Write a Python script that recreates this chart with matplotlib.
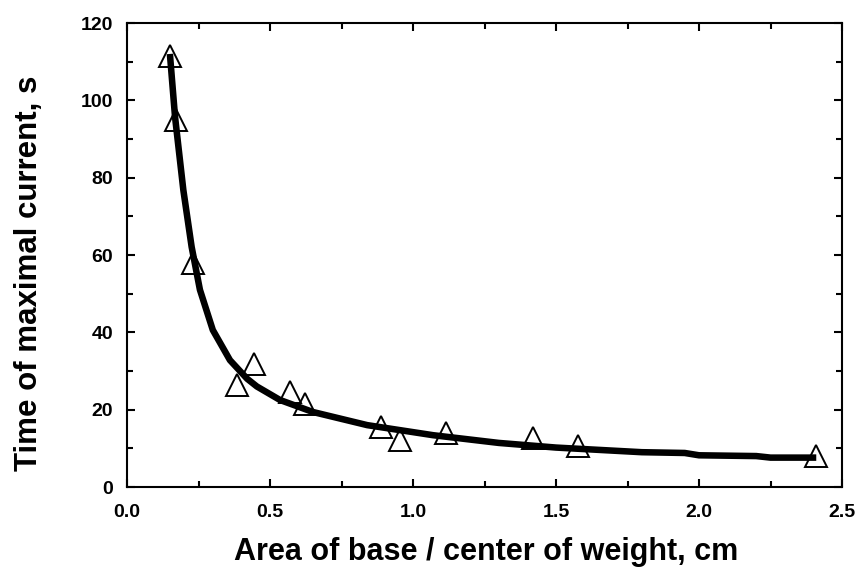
import matplotlib
matplotlib.use("Agg")
import matplotlib.pyplot as plt
from matplotlib.ticker import MultipleLocator

# measured data points
pts_x = [0.15, 0.171, 0.232, 0.385, 0.445, 0.57, 0.622, 0.888, 0.955, 1.115, 1.42, 1.577, 2.41]
pts_y = [111.5, 95.0, 58.0, 26.4, 31.8, 24.6, 21.5, 15.5, 12.2, 14.0, 12.7, 10.6, 8.0]

# fitted curve
fit_x = [0.15, 0.168, 0.197, 0.226, 0.255, 0.30, 0.36, 0.42, 0.454, 0.535, 0.65, 0.84, 1.07, 1.30, 1.50, 1.80, 1.95, 2.0, 2.2, 2.25, 2.41]
fit_y = [112.0, 95.7, 76.8, 62.1, 51.0, 40.6, 32.8, 28.0, 26.0, 22.5, 19.4, 16.0, 13.4, 11.4, 10.2, 9.0, 8.8, 8.2, 8.0, 7.6, 7.6]

xticks = [0.0, 0.5, 1.0, 1.5, 2.0, 2.5]
xticklabels = ["0.0", "0.5", "1.0", "1.5", "2.0", "2.5"]
yticks = [0, 20, 40, 60, 80, 100, 120]
yticklabels = ["0", "20", "40", "60", "80", "100", "120"]

plt.rcParams['font.family'] = ['Liberation Sans', 'DejaVu Sans']
plt.rcParams['font.weight'] = 'bold'

W, H = 857, 571
fig = plt.figure(figsize=(W / 100, H / 100), dpi=100)
ax = fig.add_axes([127 / W, 1 - 487 / H, (842 - 127) / W, (487 - 23) / H])

ax.plot(fit_x, fit_y, color='black', lw=4.7, solid_capstyle='butt', zorder=2)
ax.plot(pts_x, pts_y, linestyle='none', marker='^', markersize=16.5,
        markerfacecolor='none', markeredgecolor='black', markeredgewidth=1.4, zorder=3)

ax.set_xlim(0, 2.5)
ax.set_ylim(0, 120)
ax.set_xticks(xticks)
ax.set_xticklabels(xticklabels)
ax.set_yticks(yticks)
ax.set_yticklabels(yticklabels)
ax.xaxis.set_minor_locator(MultipleLocator(0.25))
ax.yaxis.set_minor_locator(MultipleLocator(10))

ax.tick_params(which='both', direction='in', top=True, right=True, width=1.5)
ax.tick_params(which='major', length=6, labelsize=14)
ax.tick_params(axis='x', which='major', pad=12)
ax.tick_params(axis='y', which='major', pad=10)
ax.tick_params(which='minor', length=4)
for lab in ax.get_xticklabels() + ax.get_yticklabels():
    lab.set_fontweight('bold')
for s in ax.spines.values():
    s.set_linewidth(1.5)

fig.text(486 / W, 1 - 560 / H, "Area of base / center of weight, cm",
         fontsize=22, fontweight='bold', ha='center', va='baseline')
fig.text(37 / W, 1 - 273 / H, "Time of maximal current, s",
         fontsize=22.5, fontweight='bold', ha='center', va='baseline',
         rotation=90, rotation_mode='anchor')

fig.savefig("out.png", dpi=100)
